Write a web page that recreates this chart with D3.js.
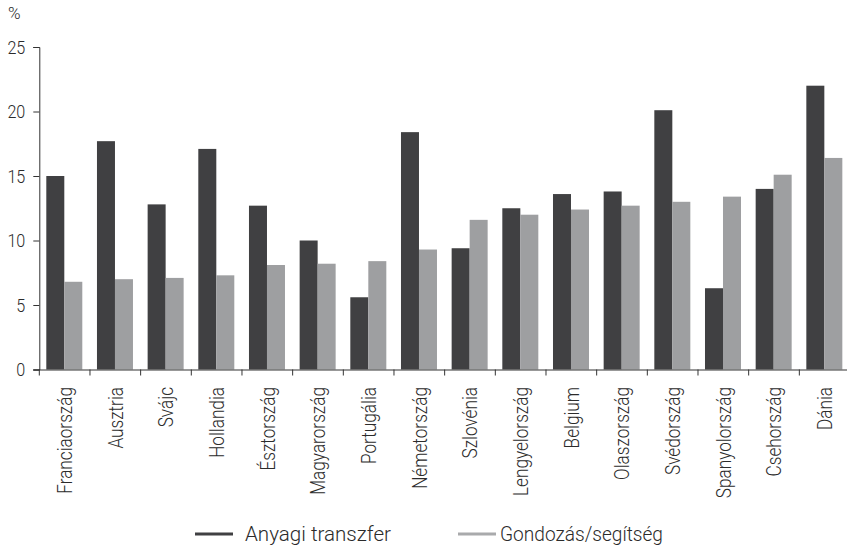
<!DOCTYPE html>
<html>
<head>
<meta charset="utf-8">
<script src="https://cdn.jsdelivr.net/npm/d3@7"></script>
<style>
  html, body { margin: 0; padding: 0; background: #fff; }
  svg { display: block; }
  text { font-family: Roboto, "Liberation Sans", sans-serif; font-weight: 300; fill: #2b2b2b; }
</style>
</head>
<body>
<svg id="chart" width="847" height="555"></svg>
<script>
// Countries along the x axis
const countries = ["Franciaország", "Ausztria", "Svájc", "Hollandia", "Észtország",
  "Magyarország", "Portugália", "Németország", "Szlovénia", "Lengyelország",
  "Belgium", "Olaszország", "Svédország", "Spanyolország", "Csehország", "Dánia"];

// Share of respondents (%) by type of support
const anyagiTranszfer = [15.0, 17.7, 12.8, 17.1, 12.7, 10.0, 5.6, 18.4, 9.4, 12.5, 13.6, 13.8, 20.1, 6.3, 14.0, 22.0];
const gondozasSegitseg = [6.8, 7.0, 7.1, 7.3, 8.1, 8.2, 8.4, 9.3, 11.6, 12.0, 12.4, 12.7, 13.0, 13.4, 15.1, 16.4];

const seriesNames = ["Anyagi transzfer", "Gondozás/segítség"];
const yTicks = [0, 5, 10, 15, 20, 25];
const unitLabel = "%";

const colors = ["#404042", "#9e9fa1"];
const legendColors = ["#404042", "#a9aaac"];

const svg = d3.select("#chart");
const x0 = 39.3, x1 = 850, yBottom = 369.5, yTop = 47;

const x = d3.scaleBand().domain(countries).range([x0, x1]).paddingInner(0).paddingOuter(0);
const xs = d3.scaleBand().domain(seriesNames).range([7, 7 + 36]);
const y = d3.scaleLinear().domain([0, 25]).range([yBottom, yTop]);

const rows = countries.map((c, i) => ({ country: c, values: [anyagiTranszfer[i], gondozasSegitseg[i]] }));

// Bars
const groups = svg.append("g").selectAll("g").data(rows).join("g")
  .attr("transform", d => `translate(${x(d.country)},0)`);
groups.selectAll("rect").data(d => d.values.map((v, k) => ({ v, k })))
  .join("rect")
  .attr("x", d => xs(seriesNames[d.k]))
  .attr("width", xs.bandwidth())
  .attr("y", d => y(d.v))
  .attr("height", d => y(0) - y(d.v))
  .attr("fill", d => colors[d.k]);

// Y axis
const yAxis = svg.append("g").attr("transform", `translate(${x0},0)`)
  .call(d3.axisLeft(y).tickValues(yTicks).tickSize(6).tickFormat(d3.format("d")));
yAxis.select(".domain").attr("stroke", "#333");
yAxis.selectAll(".tick line").attr("stroke", "#333");
yAxis.selectAll(".tick text")
  .attr("x", null).attr("dy", null)
  .attr("text-anchor", "end")
  .style("font-size", "19px")
  .attr("transform", "translate(-14,6) scale(0.85,1)");

// X axis
const xAxis = svg.append("g").attr("transform", `translate(0,${yBottom})`)
  .call(d3.axisBottom(x).tickSize(0).tickFormat(""));
xAxis.select(".domain").attr("stroke", "#333").attr("d", `M${x0 - 6},0.5H${x1}`);
xAxis.selectAll(".tick").remove();
const edges = countries.map(c => x(c));
xAxis.selectAll("line.sep").data(edges).join("line")
  .attr("class", "sep")
  .attr("x1", d => d).attr("x2", d => d)
  .attr("y1", 0).attr("y2", 6)
  .attr("stroke", "#333");

// Category labels, rotated
svg.append("g").selectAll("text").data(countries).join("text")
  .attr("transform", d => `translate(${x(d) + x.bandwidth() / 2 + 0.5},387) rotate(-90) scale(0.86,1)`)
  .attr("text-anchor", "end")
  .attr("dy", "0.35em")
  .style("font-size", "20px")
  .text(d => d);

// Unit label
svg.append("text")
  .attr("x", 8).attr("y", 19)
  .style("font-size", "17px")
  .text(unitLabel);

// Legend
const legendX = [195, 458];
const legend = svg.append("g").selectAll("g").data(seriesNames).join("g")
  .attr("transform", (d, i) => `translate(${legendX[i]},534)`);
legend.append("line")
  .attr("x1", 0).attr("x2", 38).attr("y1", 0).attr("y2", 0)
  .attr("stroke", (d, i) => legendColors[i]).attr("stroke-width", 3);
legend.append("text")
  .attr("transform", (d, i) => `translate(${i === 0 ? 50 : 42},7) scale(${i === 0 ? 0.98 : 0.91},1)`)
  .style("font-size", "21px")
  .text(d => d);
</script>
</body>
</html>
